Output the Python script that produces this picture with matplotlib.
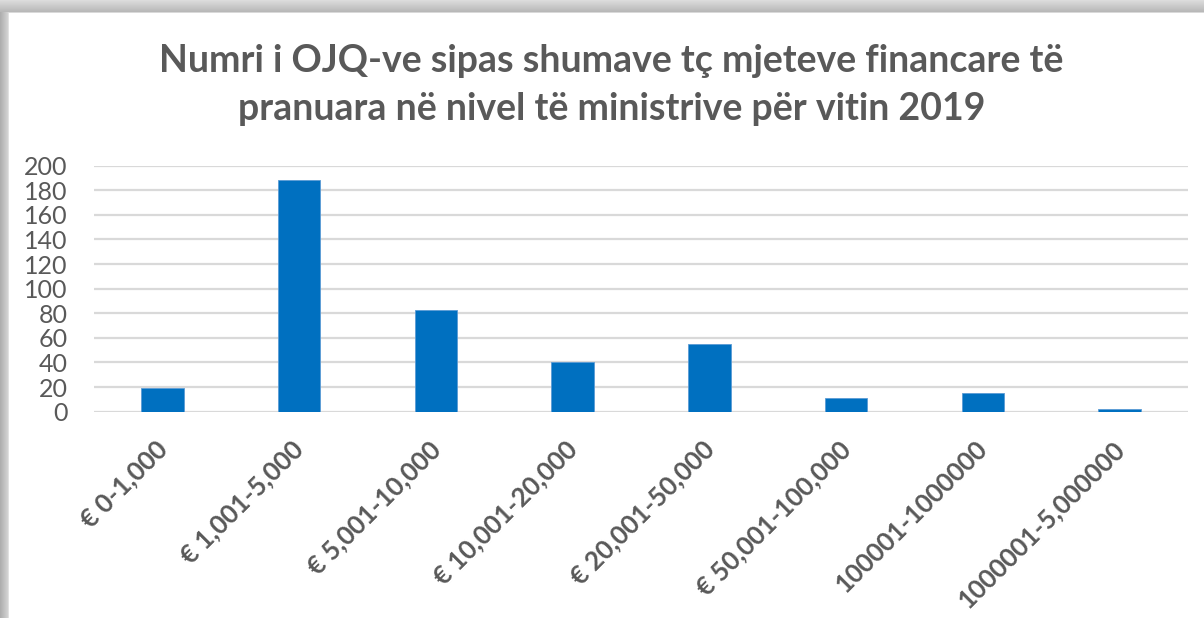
import numpy as np
import matplotlib.pyplot as plt
from matplotlib.transforms import ScaledTranslation

plt.rcParams['font.family'] = ['Lato', 'DejaVu Sans']

categories = ["€ 0-1,000", "€ 1,001-5,000", "€ 5,001-10,000", "€ 10,001-20,000",
              "€ 20,001-50,000", "€ 50,001-100,000", "100001-1000000", "1000001-5,000000"]
counts = [19, 188, 83, 40, 55, 11, 15, 2]
yticks = [0, 20, 40, 60, 80, 100, 120, 140, 160, 180, 200]

title = ("Numri i OJQ-ve sipas shumave tç mjeteve financare të\n"
         "pranuara në nivel të ministrive për vitin 2019")

W, H = 1204, 618
fig = plt.figure(figsize=(W / 100, H / 100), dpi=100)

# frame shadow along the top and left edges
bg = fig.add_axes([0, 0, 1, 1], zorder=-5)
img = np.ones((H, W))
for y in range(12):
    img[y, :] = 0.86 - 0.14 * y / 11
img[12, :] = 0.85
for x in range(8):
    img[12:, x] = np.minimum(img[12:, x], 0.68 + 0.14 * x / 7)
img[13:, 8] = 0.88
bg.imshow(img, cmap='gray', vmin=0, vmax=1, aspect='auto', interpolation='nearest')
bg.axis('off')

ax = fig.add_axes([94 / W, 1 - 411.7 / H, (1188 - 94) / W, (411.7 - 165.7) / H])
x = np.arange(len(categories))
ax.bar(x, counts, width=0.31, color='#0070C0', edgecolor='#5B9BD5', linewidth=0.6, zorder=3)
ax.set_xlim(-0.5, len(categories) - 0.5)
ax.set_ylim(0, 200)
ax.set_yticks(yticks)
ax.yaxis.grid(True, color='#D9D9D9', linewidth=1.6, zorder=0)
ax.set_axisbelow(True)
for s in ax.spines.values():
    s.set_visible(False)
ax.tick_params(axis='both', length=0, colors='#595959')
ax.tick_params(axis='y', labelsize=18, pad=19)
ax.set_xticks(x)
ax.set_xticklabels(categories, rotation=45, ha='right', rotation_mode='anchor',
                   fontsize=18.5, fontweight='bold', color='#595959')
ax.tick_params(axis='x', pad=18)
# nudge the slanted labels a little to the left, as in the original
shift = ScaledTranslation(-8 / 100, 0, fig.dpi_scale_trans)
for lbl in ax.get_xticklabels():
    lbl.set_transform(lbl.get_transform() + shift)

fig.text(0.508, 1 - 84.5 / H, title, ha='center', va='center', fontsize=27,
         fontweight='bold', color='#595959', linespacing=1.5)

fig.savefig('out.png', dpi=100)
